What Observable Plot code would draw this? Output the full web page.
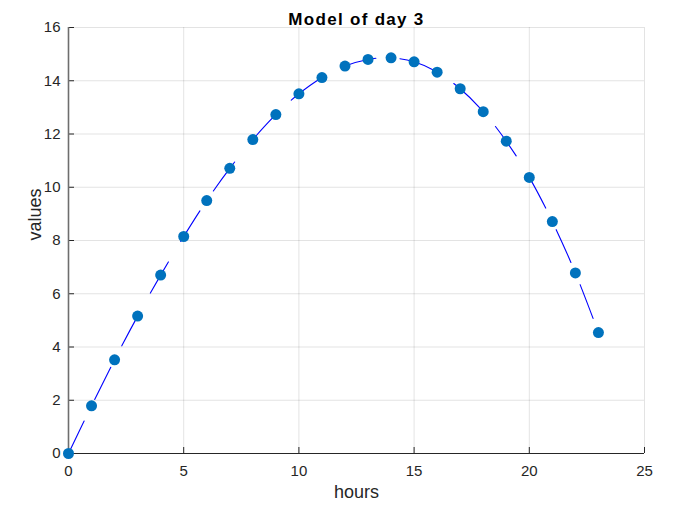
<!DOCTYPE html>
<html>
<head>
<meta charset="utf-8">
<script src="https://cdn.jsdelivr.net/npm/d3@7"></script>
<script src="https://cdn.jsdelivr.net/npm/@observablehq/plot@0.6"></script>
<style>
  html, body { margin: 0; padding: 0; background: #fff; }
</style>
</head>
<body>
<div id="chart"></div>
<script>
const hours = [0,1,2,3,4,5,6,7,8,9,10,11,12,13,14,15,16,17,18,19,20,21,22,23];
const values = [0,1.79,3.52,5.16,6.70,8.15,9.50,10.71,11.79,12.73,13.51,14.12,14.55,14.80,14.86,14.71,14.32,13.70,12.84,11.73,10.37,8.71,6.78,4.54];
const xTicks = [0,5,10,15,20,25];
const yTicks = [0,2,4,6,8,10,12,14,16];
const titleText = "Model of day 3";
const xLabel = "hours";
const yLabel = "values";

const data = hours.map((h, i) => ({hour: h, value: values[i]}));
const axisColor = "#262626";
const W = 676, H = 506, ML = 68, MR = 32, MT = 27, MB = 53;
const tickLen = 6;

const chart = Plot.plot({
  width: W,
  height: H,
  marginLeft: ML,
  marginRight: MR,
  marginTop: MT,
  marginBottom: MB,
  style: {fontFamily: "'Liberation Sans', Arial, Helvetica, sans-serif", background: "#fff", overflow: "visible"},
  x: {domain: [0, 25], label: null},
  y: {domain: [0, 16], label: null},
  marks: [
    Plot.gridX(xTicks, {stroke: "#000", strokeOpacity: 0.11}),
    Plot.gridY(yTicks, {stroke: "#000", strokeOpacity: 0.11}),
    Plot.axisX(xTicks, {tickSize: 0, tickPadding: 12, fontSize: 15, fill: axisColor, tickFormat: d3.format("d"), label: null}),
    Plot.axisY(yTicks, {tickSize: 0, tickPadding: 8, fontSize: 15, fill: axisColor, tickFormat: d3.format("d"), label: null}),
    Plot.tickX(xTicks, {x: d => d, insetTop: (H - MT - MB) - tickLen, stroke: axisColor, strokeWidth: 1}),
    Plot.tickY(yTicks, {y: d => d, insetRight: (W - ML - MR) - tickLen, stroke: axisColor, strokeWidth: 1}),
    Plot.ruleY([0], {stroke: axisColor, strokeWidth: 1}),
    Plot.ruleX([0], {stroke: "#6e6e6e", strokeWidth: 1.6}),
    Plot.line(data, {x: "hour", y: "value", curve: "catmull-rom", stroke: "#0000ff", strokeWidth: 1.1, strokeDasharray: "36,24"}),
    Plot.dot(data, {x: "hour", y: "value", r: 5.5, fill: "#0072bd", stroke: "none"}),
    Plot.text([titleText], {frameAnchor: "top", dy: -15, fontSize: 17, fontWeight: "bold", fill: "#000"}),
    Plot.text([xLabel], {frameAnchor: "bottom", dy: 44, fontSize: 18, fill: axisColor}),
    Plot.text([yLabel], {frameAnchor: "left", dx: -33, rotate: -90, fontSize: 18, fill: axisColor})
  ]
});
document.getElementById("chart").appendChild(chart);
chart.querySelectorAll("text").forEach(t => {
  if (t.textContent === titleText) t.setAttribute("letter-spacing", "1.3");
});
</script>
</body>
</html>
